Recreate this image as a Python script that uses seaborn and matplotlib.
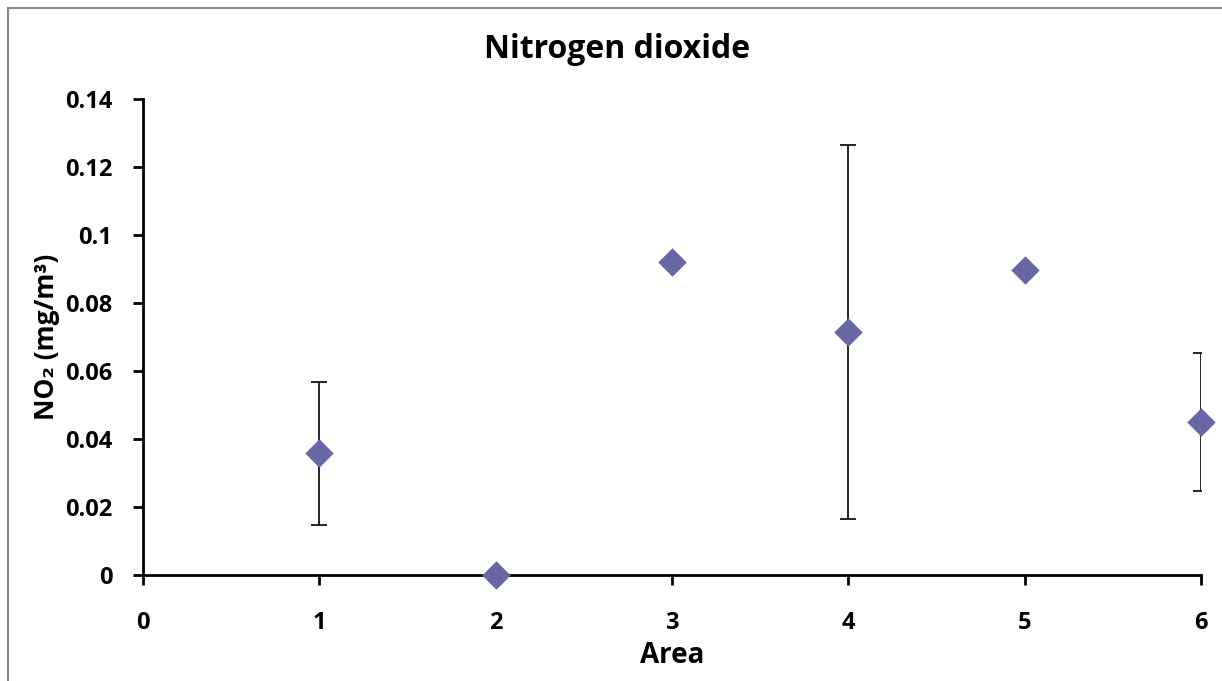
import matplotlib
matplotlib.use("Agg")
import matplotlib.pyplot as plt
import matplotlib.patches as mpatches
import seaborn as sns
import pandas as pd

areas = [1, 2, 3, 4, 5, 6]
no2 = [0.0358, 0.0, 0.0921, 0.0715, 0.0897, 0.0450]
err = [0.0210, 0.0, 0.0, 0.0550, 0.0, 0.0203]
has_err = [True, False, False, True, False, True]

sns.set_theme(style="white")
plt.rcParams['font.family'] = ['Open Sans', 'DejaVu Sans']
plt.rcParams['font.weight'] = 'bold'

fig = plt.figure(figsize=(12.22, 6.81), dpi=100)
ax = fig.add_axes([143/1222, 106/681, (1201-143)/1222, (575-99)/681])

df = pd.DataFrame({"Area": areas, "NO2": no2, "err": err, "has": has_err})
sub = df[df["has"]]
ax.errorbar(sub["Area"], sub["NO2"], yerr=sub["err"], fmt='none', ecolor='black',
            elinewidth=1.2, capsize=6, capthick=1.2, zorder=2)
sns.scatterplot(data=df, x="Area", y="NO2", marker='D', s=210, color='#6667A3',
                edgecolor='#6667A3', linewidth=0, ax=ax, zorder=3, clip_on=False)

ax.set_xlim(0, 6)
ax.set_ylim(0, 0.14)
ax.set_xticks([0, 1, 2, 3, 4, 5, 6])
ax.set_xticklabels(['0', '1', '2', '3', '4', '5', '6'])
ax.set_yticks([0, 0.02, 0.04, 0.06, 0.08, 0.1, 0.12, 0.14])
ax.set_yticklabels(['0', '0.02', '0.04', '0.06', '0.08', '0.1', '0.12', '0.14'])
for s in ['top', 'right']:
    ax.spines[s].set_visible(False)
for s in ['left', 'bottom']:
    ax.spines[s].set_color('black')
    ax.spines[s].set_linewidth(2)
ax.tick_params(axis='both', which='major', direction='out', length=7, width=2,
               color='black', labelsize=17, labelcolor='black',
               bottom=True, left=True)
ax.tick_params(axis='y', pad=15)
ax.tick_params(axis='x', pad=19)
for lab in ax.get_xticklabels() + ax.get_yticklabels():
    lab.set_fontweight('bold')

ax.set_xlabel('Area', fontsize=20, fontweight='bold', color='black', labelpad=4)
ax.set_ylabel('NO₂ (mg/m³)', fontsize=19, fontweight='bold', color='black', labelpad=4)
fig.text(0.505, 1 - 50/681, 'Nitrogen dioxide', ha='center', va='center',
         fontsize=23, fontweight='bold', color='black')

border = mpatches.Rectangle((8/1222, -0.1), 2, 1.1 - 8/681, transform=fig.transFigure,
                            fill=False, edgecolor='#888888', linewidth=1.5)
fig.patches.append(border)

fig.savefig('out.png', dpi=100)
